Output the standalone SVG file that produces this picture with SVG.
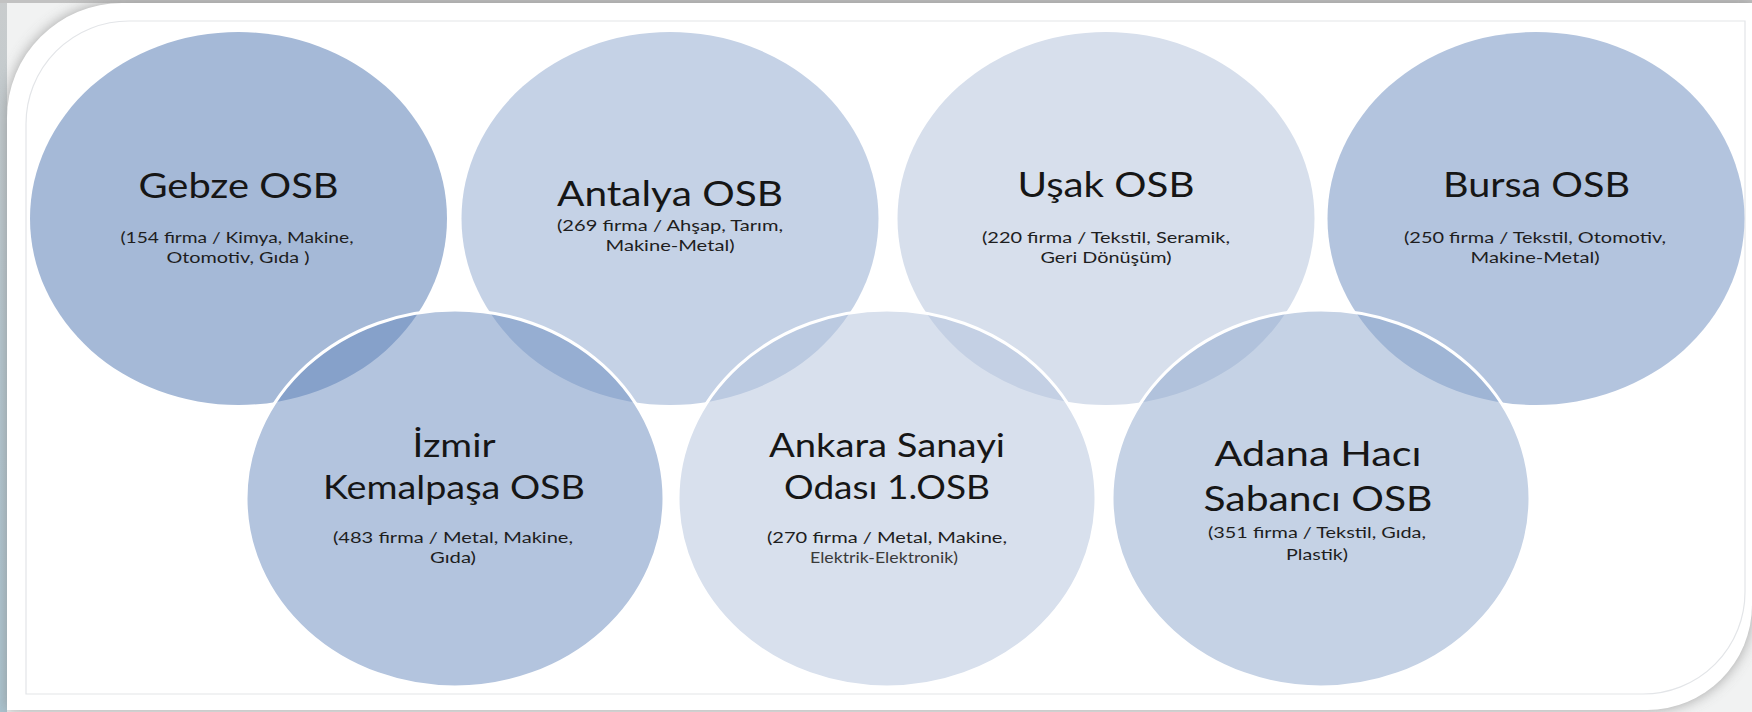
<svg xmlns="http://www.w3.org/2000/svg" width="1752" height="712" viewBox="0 0 1752 712">
<defs>
<style>
.t{font-family:Lato,"Open Sans","Liberation Sans",sans-serif;fill:#161616;text-anchor:middle}
.ti{font-size:35px}
.tb{font-size:32.5px}
.s{font-size:16.2px;fill:#1e1e1e}
.bot{stroke:#ffffff;stroke-width:3}
</style>
<linearGradient id="strip" x1="0" y1="0" x2="0" y2="1">
<stop offset="0" stop-color="#c9cccd"/>
<stop offset="0.5" stop-color="#b4c7d0"/>
<stop offset="1" stop-color="#a9c3cf"/>
</linearGradient>
<filter id="sh" x="-5%" y="-5%" width="110%" height="110%">
<feGaussianBlur stdDeviation="7"/>
</filter>
</defs>
<rect x="0" y="0" width="1752" height="712" fill="#f1f2f2"/>
<rect x="0" y="0" width="7" height="712" fill="url(#strip)"/>
<rect x="0" y="0" width="1752" height="3" fill="#c2c2c2"/>
<path d="M 7,118 A 115 115 0 0 1 122,3 L 1752,3 L 1752,605 A 105 105 0 0 1 1647,710 L 7,710 Z" fill="#8f8f8f" filter="url(#sh)" opacity="0.8"/>
<path d="M 7,118 A 115 115 0 0 1 122,3 L 1752,3 L 1752,605 A 105 105 0 0 1 1647,710 L 7,710 Z" fill="#ffffff"/>
<path d="M 26,124 A 103 103 0 0 1 129,21 L 1745,21 L 1745,592 A 102 102 0 0 1 1643,694 L 26,694 Z" fill="none" stroke="#e3e5e8" stroke-width="1.2"/>

<g id="gebze">
<ellipse cx="238.5" cy="218.5" rx="208.5" ry="186.5" fill="#a5b9d7"/>
<text class="t ti" x="238.5" y="198" textLength="200" lengthAdjust="spacingAndGlyphs">Gebze OSB</text>
<text class="t s" x="237" y="243" textLength="233" lengthAdjust="spacingAndGlyphs">(154 firma / Kimya, Makine,</text>
<text class="t s" x="238" y="263" textLength="143" lengthAdjust="spacingAndGlyphs">Otomotiv, Gıda )</text>
</g>
<g id="antalya">
<ellipse cx="670" cy="218.5" rx="208.5" ry="186.5" fill="#c5d2e6"/>
<text class="t ti" x="670" y="206" textLength="226" lengthAdjust="spacingAndGlyphs">Antalya OSB</text>
<text class="t s" x="670" y="231" textLength="226" lengthAdjust="spacingAndGlyphs">(269 firma / Ahşap, Tarım,</text>
<text class="t s" x="670" y="251" textLength="129" lengthAdjust="spacingAndGlyphs">Makine-Metal)</text>
</g>
<g id="usak">
<ellipse cx="1106" cy="218.5" rx="208.5" ry="186.5" fill="#d7dfec"/>
<text class="t ti" x="1106" y="197" textLength="177" lengthAdjust="spacingAndGlyphs">Uşak OSB</text>
<text class="t s" x="1106" y="243" textLength="248" lengthAdjust="spacingAndGlyphs">(220 firma / Tekstil, Seramik,</text>
<text class="t s" x="1106" y="263" textLength="131" lengthAdjust="spacingAndGlyphs">Geri Dönüşüm)</text>
</g>
<g id="bursa">
<ellipse cx="1536" cy="218.5" rx="208.5" ry="186.5" fill="#b3c4de"/>
<text class="t ti" x="1536.5" y="197" textLength="187" lengthAdjust="spacingAndGlyphs">Bursa OSB</text>
<text class="t s" x="1535" y="243" textLength="262" lengthAdjust="spacingAndGlyphs">(250 firma / Tekstil, Otomotiv,</text>
<text class="t s" x="1535" y="263" textLength="129" lengthAdjust="spacingAndGlyphs">Makine-Metal)</text>
</g>

<g id="izmir">
<ellipse class="bot" cx="455" cy="498.5" rx="209" ry="188.5" fill="#6789bd" fill-opacity="0.5"/>
<text class="t tb" x="454" y="457" textLength="83" lengthAdjust="spacingAndGlyphs">İzmir</text>
<text class="t tb" x="454" y="499" textLength="262" lengthAdjust="spacingAndGlyphs">Kemalpaşa OSB</text>
<text class="t s" x="453" y="543" textLength="240" lengthAdjust="spacingAndGlyphs">(483 firma / Metal, Makine,</text>
<text class="t s" x="453" y="563" textLength="46" lengthAdjust="spacingAndGlyphs">Gıda)</text>
</g>
<g id="ankara">
<ellipse class="bot" cx="887" cy="498.5" rx="209" ry="188.5" fill="#b1c1db" fill-opacity="0.5"/>
<text class="t tb" x="887" y="457" textLength="236" lengthAdjust="spacingAndGlyphs">Ankara Sanayi</text>
<text class="t tb" x="887" y="499" textLength="206" lengthAdjust="spacingAndGlyphs">Odası 1.OSB</text>
<text class="t s" x="887" y="543" textLength="240" lengthAdjust="spacingAndGlyphs">(270 firma / Metal, Makine,</text>
<text class="t s" x="884" y="563" textLength="148" lengthAdjust="spacingAndGlyphs" style="font-size:15px;fill:#3a3a3a">Elektrik-Elektronik)</text>
</g>
<g id="adana">
<ellipse class="bot" cx="1321" cy="498.5" rx="209" ry="188.5" fill="#8ba5cb" fill-opacity="0.5"/>
<text class="t ti" x="1318" y="466" textLength="207" lengthAdjust="spacingAndGlyphs">Adana Hacı</text>
<text class="t ti" x="1318" y="511" textLength="229" lengthAdjust="spacingAndGlyphs">Sabancı OSB</text>
<text class="t s" x="1317" y="538" textLength="218" lengthAdjust="spacingAndGlyphs">(351 firma / Tekstil, Gıda,</text>
<text class="t s" x="1317" y="560" textLength="62" lengthAdjust="spacingAndGlyphs">Plastik)</text>
</g>
<g id="connectors"/>
</svg>
